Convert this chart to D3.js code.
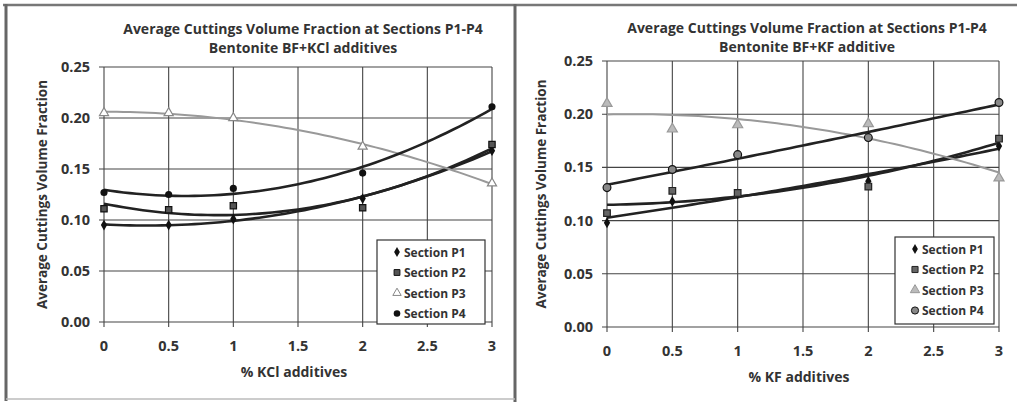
<!DOCTYPE html>
<html>
<head>
    <meta charset="utf-8" />
    <script src="https://d3js.org/d3.v7.min.js"></script>
    <style>
        body { margin: 0; background: #fff; }
        text { font-family: "Open Sans", sans-serif; font-weight: bold; fill: #333; }
    </style>
</head>
<body>
    <script type="text/javascript">
        var w = 1019,
            h = 402;

        // % additive concentrations (x values)
        var additive = [0, 0.5, 1, 2, 3];
        var xTicks = [0, 0.5, 1, 1.5, 2, 2.5, 3];
        var yTicks = [0, 0.05, 0.10, 0.15, 0.20, 0.25];
        var sectionNames = ["Section P1", "Section P2", "Section P3", "Section P4"];

        // Bentonite BF + KCl
        var kclP1 = [0.095, 0.095, 0.101, 0.121, 0.168];
        var kclP2 = [0.111, 0.110, 0.114, 0.112, 0.174];
        var kclP3 = [0.205, 0.205, 0.200, 0.172, 0.136];
        var kclP4 = [0.127, 0.125, 0.131, 0.146, 0.211];

        // Bentonite BF + KF
        var kfP1 = [0.098, 0.118, 0.125, 0.137, 0.170];
        var kfP2 = [0.107, 0.128, 0.126, 0.132, 0.177];
        var kfP3 = [0.210, 0.186, 0.190, 0.191, 0.140];
        var kfP4 = [0.131, 0.148, 0.162, 0.178, 0.211];

        var svg = d3.select("body")
                    .append("svg")
                    .attr("width", w)
                    .attr("height", h);

        // scanned page frame
        svg.append("line").attr("x1", 3).attr("x2", 1017).attr("y1", 5).attr("y2", 5)
           .attr("stroke", "#777").attr("stroke-width", 2.5);
        svg.append("line").attr("x1", 6).attr("x2", 6).attr("y1", 4).attr("y2", 401)
           .attr("stroke", "#666").attr("stroke-width", 3);
        svg.append("line").attr("x1", 515).attr("x2", 515).attr("y1", 4).attr("y2", 402)
           .attr("stroke", "#666").attr("stroke-width", 3);
        svg.append("line").attr("x1", 6).attr("x2", 515).attr("y1", 399).attr("y2", 399)
           .attr("stroke", "#bbb").attr("stroke-width", 1.5);

        // least squares quadratic, like the spreadsheet trendline
        function polyFit(xs, ys) {
            var n = xs.length, s = [0, 0, 0, 0, 0], t = [0, 0, 0];
            for (var i = 0; i < n; i++) {
                for (var k = 0; k < 5; k++) s[k] += Math.pow(xs[i], k);
                for (var k = 0; k < 3; k++) t[k] += ys[i] * Math.pow(xs[i], k);
            }
            var m = [[s[0], s[1], s[2], t[0]], [s[1], s[2], s[3], t[1]], [s[2], s[3], s[4], t[2]]];
            for (var c = 0; c < 3; c++) {
                for (var r = c + 1; r < 3; r++) {
                    var f = m[r][c] / m[c][c];
                    for (var k = c; k < 4; k++) m[r][k] -= f * m[c][k];
                }
            }
            var a = [0, 0, 0];
            for (var r = 2; r >= 0; r--) {
                var v = m[r][3];
                for (var k = r + 1; k < 3; k++) v -= m[r][k] * a[k];
                a[r] = v / m[r][r];
            }
            return function(x) { return a[0] + a[1] * x + a[2] * x * x; };
        }

        var panels = [
            { title: "Average Cuttings Volume Fraction at Sections P1-P4",
              subtitle: "Bentonite BF+KCl additives", xLabel: "% KCl additives",
              series: [kclP1, kclP2, kclP3, kclP4],
              left: 104, right: 492, top: 67, bottom: 322, titleX: 303, titleY: 34, yLabelX: 47,
              legend: {x: 377, y: 240, w: 108, h: 84},
              styles: [
                  {sym: d3.symbolDiamond, size: 34, fill: "#111", stroke: "none", line: "#222", lw: 2.6},
                  {sym: d3.symbolSquare, size: 40, fill: "#555", stroke: "#111", line: "#222", lw: 2.6},
                  {sym: d3.symbolTriangle, size: 36, fill: "#fff", stroke: "#888", line: "#999", lw: 2},
                  {sym: d3.symbolCircle, size: 40, fill: "#111", stroke: "none", line: "#222", lw: 2.6}
              ] },
            { title: "Average Cuttings Volume Fraction at Sections P1-P4",
              subtitle: "Bentonite BF+KF additive", xLabel: "% KF additives",
              series: [kfP1, kfP2, kfP3, kfP4],
              left: 607, right: 999, top: 61, bottom: 327, titleX: 807, titleY: 33, yLabelX: 546,
              legend: {x: 895, y: 237, w: 99, h: 87},
              styles: [
                  {sym: d3.symbolDiamond, size: 34, fill: "#111", stroke: "none", line: "#222", lw: 2.6},
                  {sym: d3.symbolSquare, size: 44, fill: "#666", stroke: "#222", line: "#222", lw: 2.6},
                  {sym: d3.symbolTriangle, size: 44, fill: "#bbb", stroke: "#999", line: "#999", lw: 2},
                  {sym: d3.symbolCircle, size: 48, fill: "#888", stroke: "#111", line: "#222", lw: 2.6}
              ] }
        ];

        panels.forEach(function(p) {
            var x = d3.scaleLinear().domain([0, 3]).range([p.left, p.right]);
            var y = d3.scaleLinear().domain([0, 0.25]).range([p.bottom, p.top]);
            var g = svg.append("g");

            // titles
            g.append("text").attr("x", p.titleX).attr("y", p.titleY)
             .attr("text-anchor", "middle").style("font-size", "14px").text(p.title);
            g.append("text").attr("x", p.titleX).attr("y", p.titleY + 19)
             .attr("text-anchor", "middle").style("font-size", "14px").text(p.subtitle);

            // grid
            g.selectAll(".gx").data(xTicks).enter().append("line")
             .attr("x1", function(d){ return x(d); }).attr("x2", function(d){ return x(d); })
             .attr("y1", p.top).attr("y2", p.bottom + 5)
             .attr("stroke", "#444").attr("stroke-width", 1.1);
            g.selectAll(".gy").data(yTicks).enter().append("line")
             .attr("y1", function(d){ return y(d); }).attr("y2", function(d){ return y(d); })
             .attr("x1", p.left - 5).attr("x2", p.right)
             .attr("stroke", "#444").attr("stroke-width", 1.1);

            // axes labels
            g.selectAll(".yt").data(yTicks).enter().append("text")
             .attr("x", p.left - 14).attr("y", function(d){ return y(d) + 5; })
             .attr("text-anchor", "end").style("font-size", "14.5px")
             .text(function(d){ return d3.format(".2f")(d); });
            g.selectAll(".xt").data(xTicks).enter().append("text")
             .attr("x", function(d){ return x(d); }).attr("y", p.bottom + 29)
             .attr("text-anchor", "middle").style("font-size", "14.5px")
             .text(function(d){ return d; });
            g.append("text").attr("x", (p.left + p.right) / 2 - 4).attr("y", p.bottom + 55)
             .attr("text-anchor", "middle").style("font-size", "14px").text(p.xLabel);
            g.append("text")
             .attr("transform", "translate(" + p.yLabelX + "," + (p.top + p.bottom) / 2 + ") rotate(-90)")
             .attr("text-anchor", "middle").style("font-size", "13.5px")
             .text("Average Cuttings Volume Fraction");

            // trendlines
            var xsFine = d3.range(0, 3.0001, 0.05);
            var line = d3.line().x(function(d){ return x(d[0]); }).y(function(d){ return y(d[1]); });
            p.series.forEach(function(vals, i) {
                var fit = polyFit(additive, vals);
                g.append("path")
                 .attr("d", line(xsFine.map(function(v){ return [v, fit(v)]; })))
                 .attr("fill", "none").attr("stroke", p.styles[i].line)
                 .attr("stroke-width", p.styles[i].lw);
            });

            // markers
            p.series.forEach(function(vals, i) {
                var st = p.styles[i];
                g.selectAll(".m" + i).data(vals).enter().append("path")
                 .attr("d", d3.symbol().type(st.sym).size(st.size))
                 .attr("transform", function(d, j){ return "translate(" + x(additive[j]) + "," + y(d) + ")"; })
                 .attr("fill", st.fill).attr("stroke", st.stroke).attr("stroke-width", 1.2);
            });

            // legend
            var L = p.legend;
            g.append("rect").attr("x", L.x).attr("y", L.y).attr("width", L.w).attr("height", L.h)
             .attr("fill", "#fff").attr("stroke", "#333").attr("stroke-width", 1.2);
            sectionNames.forEach(function(name, i) {
                var st = p.styles[i];
                var yy = L.y + 12 + i * 20.5;
                g.append("path")
                 .attr("d", d3.symbol().type(st.sym).size(st.size * 0.85))
                 .attr("transform", "translate(" + (L.x + 20) + "," + yy + ")")
                 .attr("fill", st.fill).attr("stroke", st.stroke).attr("stroke-width", 1);
                g.append("text").attr("x", L.x + 27).attr("y", yy + 4.5)
                 .style("font-size", "12px").text(name);
            });
        });
    </script>
</body>
</html>
